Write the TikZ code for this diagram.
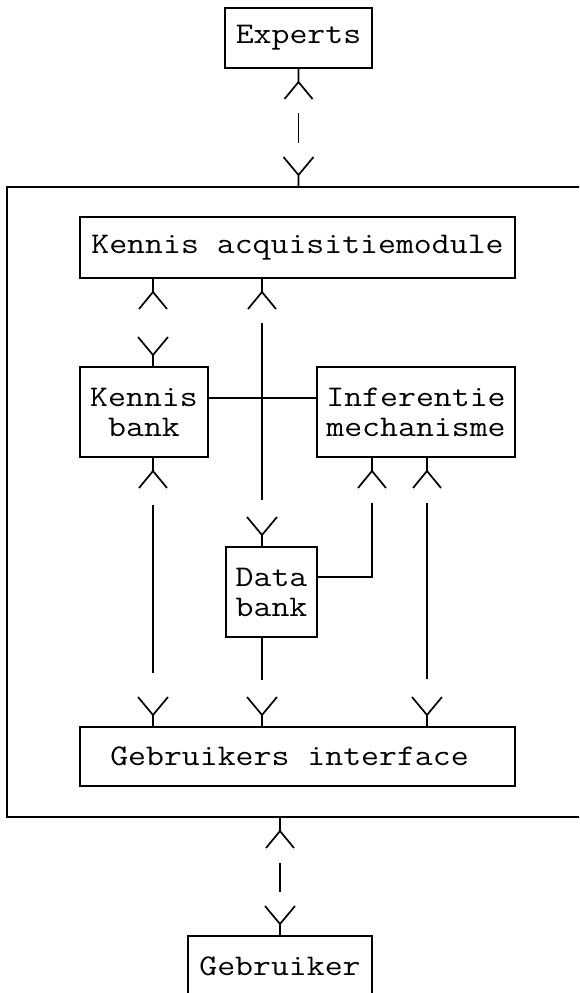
\documentclass[tikz,border=0pt]{standalone}
\usepackage{graphicx}
\usetikzlibrary{calc}
\newcommand{\wtxt}[1]{\scalebox{1.16}[1]{#1}}
\tikzset{
  box/.style={draw, line width=1.7pt, inner sep=0pt, outer sep=0pt,
    font=\ttfamily\fontsize{30}{30}\selectfont, align=center},
  link/.style={line width=1.7pt},
  crowdn/.pic={\draw[link] (0,0) -- (0,14) (-14,31) -- (0,14) -- (14,31);},
  crowup/.pic={\draw[link] (0,0) -- (0,-12) (-15,-30) -- (0,-12) -- (15,-30);}
}
\begin{document}
\begin{tikzpicture}[x=1pt,y=-1pt]
\path[use as bounding box, clip] (0,0) rectangle (579,993);
\fill[white] (0,0) rectangle (579,993);
% boxes
\node[box, minimum width=147pt, minimum height=60pt] (ex) at (298.5,38) {\wtxt{Experts}};
\node[box, minimum width=590pt, minimum height=630pt] (sys) at (302,502) {};
\node[box, minimum width=435pt, minimum height=61pt] (ka) at (297.5,247.5) {\wtxt{Kennis acquisitiemodule}};
\node[box, minimum width=128pt, minimum height=90pt] (kb) at (144,412) {\wtxt{Kennis}\\\wtxt{bank}};
\node[box, minimum width=198pt, minimum height=90pt] (im) at (416,412) {\wtxt{Inferentie}\\\wtxt{mechanisme}};
\node[box, minimum width=91pt, minimum height=90pt] (db) at (271.5,592) {\wtxt{Data}\\\wtxt{bank}};
\node[box, minimum width=435pt, minimum height=59pt] (gi) at (297.5,756.5) {\wtxt{Gebruikers interface}\hspace{16pt}};
\node[box, minimum width=184pt, minimum height=60pt] (gb) at (280,966) {\wtxt{Gebruiker}};
% connector columns
\coordinate (xa) at (153,0);
\coordinate (xb) at (262,0);
\coordinate (xc) at (372,0);
\coordinate (xd) at (427,0);
% Experts - system
\pic at (ex.south) {crowdn};
\pic at (ex.south |- sys.north) {crowup};
\draw[link] ($(ex.south)+(0,45)$) -- ($(ex.south |- sys.north)+(0,-44)$);
% Kennis acquisitie - Kennis bank
\pic at (xa |- ka.south) {crowdn};
\pic at (xa |- kb.north) {crowup};
% Kennis acquisitie - Data bank
\pic at (xb |- ka.south) {crowdn};
\pic at (xb |- db.north) {crowup};
\draw[link] ($(xb |- ka.south)+(0,45)$) -- ($(xb |- db.north)+(0,-47)$);
% Kennis bank - Inferentie
\draw[link] ($(kb.east)+(0,-14)$) -- ($(im.west)+(0,-14)$);
% Kennis bank - Gebruikers interface
\pic at (xa |- kb.south) {crowdn};
\pic at (xa |- gi.north) {crowup};
\draw[link] ($(xa |- kb.south)+(0,48)$) -- ($(xa |- gi.north)+(0,-54)$);
% Inferentie - Data bank
\pic at (xc |- im.south) {crowdn};
\draw[link] ($(xc |- im.south)+(0,46)$) |- ($(db.east)+(0,-15)$);
% Inferentie - Gebruikers interface
\pic at (xd |- im.south) {crowdn};
\pic at (xd |- gi.north) {crowup};
\draw[link] ($(xd |- im.south)+(0,46)$) -- ($(xd |- gi.north)+(0,-48)$);
% Data bank - Gebruikers interface
\pic at (xb |- gi.north) {crowup};
\draw[link] (xb |- db.south) -- ($(xb |- gi.north)+(0,-47)$);
% system - Gebruiker
\pic at (gb.north |- sys.south) {crowdn};
\pic at (gb.north) {crowup};
\draw[link] ($(gb.north |- sys.south)+(0,46)$) -- ($(gb.north)+(0,-44)$);
\end{tikzpicture}
\end{document}
